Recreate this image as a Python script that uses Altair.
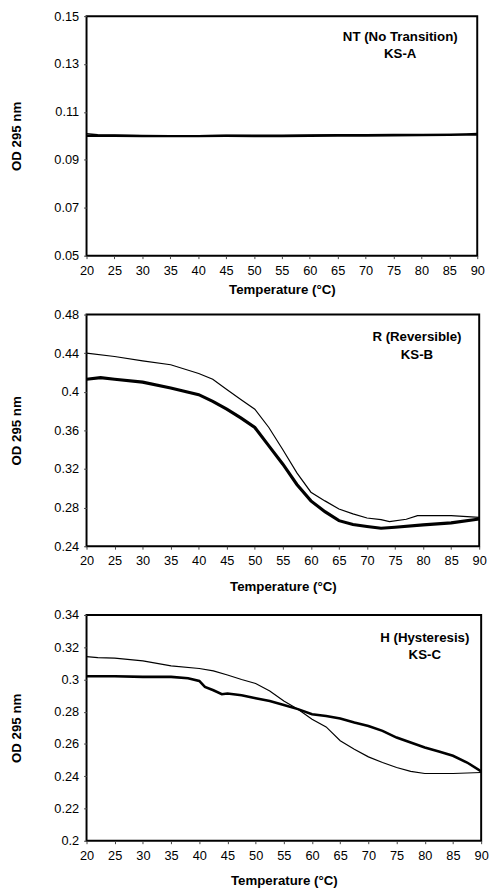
import altair as alt
import pandas as pd

FONT = "Liberation Sans"

# ---------------- Panel A: NT (No Transition), KS-A ----------------
a_temp = [20, 22, 25, 30, 35, 40, 45, 50, 55, 60, 65, 70, 75, 80, 85, 88, 90]
a_heat = [0.1009, 0.1005, 0.1004, 0.1002, 0.1001, 0.1001, 0.1003, 0.1003, 0.1003,
          0.1004, 0.1005, 0.1005, 0.1006, 0.1006, 0.1006, 0.1008, 0.1010]
a_cool = [0.1000, 0.1000, 0.1000, 0.0999, 0.0999, 0.0999, 0.1000, 0.0999, 0.0999,
          0.1000, 0.1001, 0.1001, 0.1002, 0.1003, 0.1004, 0.1005, 0.1005]

# ---------------- Panel B: R (Reversible), KS-B ----------------
b_thin_temp = [20, 25, 30, 35, 40, 42.5, 45, 47.5, 50, 52.5, 55, 57.5, 60, 62.5,
               65, 67.5, 70, 72.5, 74, 77, 79, 85, 90]
b_thin = [0.440, 0.4366, 0.4321, 0.428, 0.419, 0.413, 0.4024, 0.392, 0.382, 0.363,
          0.340, 0.316, 0.296, 0.287, 0.2786, 0.2735, 0.2693, 0.2676, 0.2655, 0.268,
          0.2717, 0.2717, 0.270]
b_thick_temp = [20, 22.5, 25, 30, 35, 40, 42.5, 45, 47.5, 50, 52.5, 55, 57.5, 60,
                62.5, 65, 67.5, 70, 72.5, 75, 80, 85, 90]
b_thick = [0.413, 0.4147, 0.413, 0.410, 0.404, 0.397, 0.390, 0.382, 0.373, 0.363,
           0.344, 0.325, 0.304, 0.287, 0.2758, 0.2665, 0.2625, 0.2604, 0.2586,
           0.2597, 0.2621, 0.2642, 0.2683]

# ---------------- Panel C: H (Hysteresis), KS-C ----------------
c_thin_temp = [20, 22, 25, 30, 35, 40, 42.5, 45, 47.5, 50, 52.5, 55, 57.5, 60, 62.5,
               65, 67.5, 70, 72.5, 75, 77.5, 80, 85, 90]
c_thin = [0.3142, 0.3136, 0.3132, 0.3115, 0.3084, 0.3068, 0.3053, 0.3028, 0.300,
          0.2975, 0.2929, 0.2867, 0.2816, 0.2754, 0.2706, 0.2620, 0.2568, 0.2520,
          0.2485, 0.2454, 0.2430, 0.2417, 0.2417, 0.2423]
c_thick_temp = [20, 25, 30, 35, 38, 40, 41, 42.5, 44, 45, 47.5, 50, 52.5, 55, 57.5,
                60, 62.5, 65, 67.5, 70, 72.5, 75, 77.5, 80, 82.5, 85, 87.5, 90]
c_thick = [0.302, 0.302, 0.3016, 0.3016, 0.3008, 0.2991, 0.2954, 0.2933, 0.2909,
           0.2913, 0.2902, 0.2884, 0.2867, 0.2842, 0.2816, 0.2785, 0.2774, 0.2758,
           0.2733, 0.2712, 0.2681, 0.2640, 0.2609, 0.2578, 0.2553, 0.2527, 0.2485,
           0.2430]

x_ticks = [20, 25, 30, 35, 40, 45, 50, 55, 60, 65, 70, 75, 80, 85, 90]
a_yticks = [0.05, 0.07, 0.09, 0.11, 0.13, 0.15]
b_yticks = [0.24, 0.28, 0.32, 0.36, 0.40, 0.44, 0.48]
c_yticks = [0.20, 0.22, 0.24, 0.26, 0.28, 0.30, 0.32, 0.34]

a_label = ["NT (No Transition)", "KS-A"]
b_label = ["R (Reversible)", "KS-B"]
c_label = ["H (Hysteresis)", "KS-C"]


def panel(series, ydom, yticks, label, label_pos, width, height, title_pad):
    xscale = alt.Scale(domain=[20, 90], nice=False)
    yscale = alt.Scale(domain=ydom, nice=False, zero=False)
    xaxis = alt.Axis(values=x_ticks, title="Temperature (°C)",
                     labelFlush=False, labelOverlap=False,
                     labelPadding=6, titlePadding=title_pad, tickSize=3)
    yaxis = alt.Axis(values=yticks, format=".2~f", title="OD 295 nm",
                     labelOverlap=False, labelPadding=5,
                     titlePadding=31, tickSize=3)
    layers = []
    for temps, vals, sw in series:
        df = pd.DataFrame({"T": temps, "OD": vals})
        layers.append(alt.Chart(df).mark_line(color="black", strokeWidth=sw)
                      .encode(x=alt.X("T:Q", scale=xscale, axis=xaxis),
                              y=alt.Y("OD:Q", scale=yscale, axis=yaxis)))
    txt = alt.Chart().mark_text(font=FONT, fontSize=13.5, fontWeight="bold",
                                align="center", baseline="top", lineHeight=17.5,
                                color="black").encode(
        x=alt.XDatum(label_pos[0], type="quantitative", scale=xscale, axis=xaxis),
        y=alt.YDatum(label_pos[1], type="quantitative", scale=yscale, axis=yaxis),
        text=alt.value(label))
    layers.append(txt)
    return alt.layer(*layers).properties(width=width, height=height)


pa = panel([(a_temp, a_heat, 1.6), (a_temp, a_cool, 2.2)], [0.05, 0.15], a_yticks,
           a_label, (76.2, 0.1440), 398, 244, 6)
pb = panel([(b_thin_temp, b_thin, 1.2), (b_thick_temp, b_thick, 3.2)], [0.24, 0.48],
           b_yticks, b_label, (78.9, 0.4634), 400, 236, 12)
pc = panel([(c_thin_temp, c_thin, 1.2), (c_thick_temp, c_thick, 2.6)], [0.20, 0.34],
           c_yticks, c_label, (80.0, 0.3301), 402, 230, 12)

chart = alt.vconcat(pa, alt.vconcat(pb, pc, spacing=14), spacing=10).properties(
    padding={"left": 0, "top": -7, "right": 0, "bottom": 0}
).configure_axis(
    labelFont=FONT, labelFontSize=13, labelColor="black", labelOverlap=False,
    titleFont=FONT, titleFontSize=13.5, titleFontWeight="bold", titleColor="black",
    tickColor="#444", domain=False, grid=False
).configure_view(stroke="black", strokeWidth=2)

chart.save("out.html", embed_options={"renderer": "svg", "actions": False})
